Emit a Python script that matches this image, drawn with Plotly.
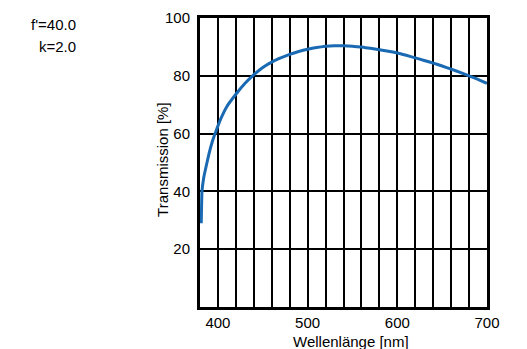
import plotly.graph_objects as go

wavelength = [381.4, 382.2, 384, 386, 390, 394, 398, 403, 410, 420, 430, 438, 450, 462, 470, 480,
              490, 500, 510, 520, 530, 540, 550, 560, 570, 580, 590, 600, 610, 620, 630, 640,
              650, 660, 670, 680, 690, 700]
transmission = [29.0, 40.0, 44.5, 47.5, 53.0, 57.5, 61.0, 65.0, 69.4, 73.6, 77.3, 79.8, 82.9, 85.1,
                86.2, 87.4, 88.4, 89.2, 89.8, 90.2, 90.4, 90.4, 90.2, 90.0, 89.5, 89.0, 88.5,
                87.9, 87.1, 86.2, 85.3, 84.4, 83.4, 82.3, 81.2, 80.0, 78.8, 77.4]
x_ticks = [400, 500, 600, 700]
y_ticks = [20, 40, 60, 80, 100]
params = ["f'=40.0", "k=2.0"]
x_title = "Wellenlänge [nm]"
y_title = "Transmission [%]"

FONT = "Liberation Sans"

fig = go.Figure()
fig.add_trace(go.Scatter(x=wavelength, y=transmission, mode="lines",
                         line=dict(color="#1a6ab3", width=3, shape="spline", smoothing=0.3),
                         showlegend=False, hoverinfo="skip"))

fig.update_layout(
    width=527, height=349,
    margin=dict(l=200, r=40, t=18, b=42),
    paper_bgcolor="white", plot_bgcolor="white",
    font=dict(family=FONT, size=15, color="black"),
    xaxis=dict(range=[380, 700], tickvals=x_ticks, showgrid=True, gridcolor="black", gridwidth=1.5,
               minor=dict(dtick=20, tick0=380, showgrid=True, gridcolor="black", gridwidth=1.5),
               showline=True, linecolor="black", linewidth=3, mirror=True, automargin=False,
               ticks="", ticklabelstandoff=0, zeroline=False),
    yaxis=dict(range=[0, 100], tickvals=y_ticks, showgrid=True, gridcolor="black", gridwidth=1.5,
               showline=True, linecolor="black", linewidth=3, mirror=True, automargin=False,
               ticks="", ticklabelstandoff=4, zeroline=False),
    annotations=[
        dict(text=params[0], xref="paper", yref="paper", x=-0.425, y=0.976, xanchor="right",
             yanchor="middle", showarrow=False, font=dict(size=15)),
        dict(text=params[1], xref="paper", yref="paper", x=-0.425, y=0.900, xanchor="right",
             yanchor="middle", showarrow=False, font=dict(size=15)),
        dict(text=x_title, xref="paper", yref="paper", x=0.526, y=-0.118, xanchor="center",
             yanchor="middle", showarrow=False, font=dict(size=15)),
        dict(text=y_title, xref="paper", yref="paper", x=-0.129, y=0.509, xanchor="center",
             yanchor="middle", textangle=-90, showarrow=False, font=dict(size=15)),
    ],
)

fig.write_html("out.html", config={"displayModeBar": False},
               post_script="document.body.style.margin='0';document.body.style.overflow='hidden';")
